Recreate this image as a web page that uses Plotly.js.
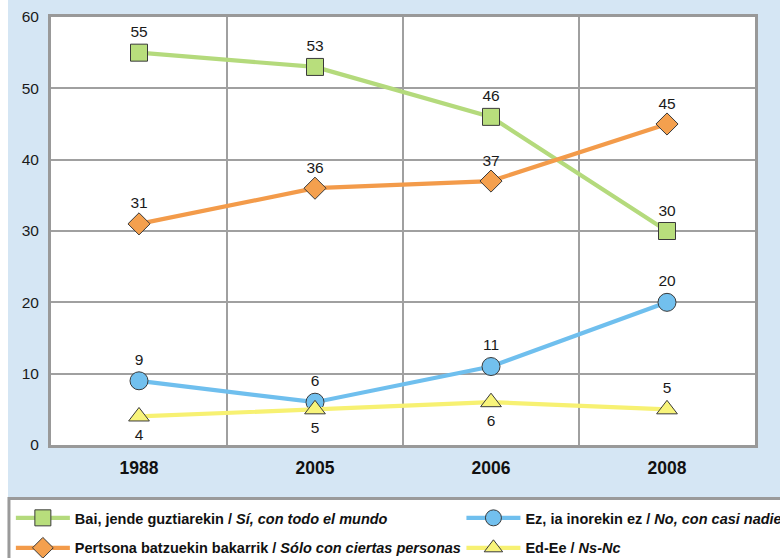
<!DOCTYPE html>
<html>
<head>
<meta charset="utf-8">
<script src="https://cdn.plot.ly/plotly-3.0.1.min.js"></script>
<style>html,body{margin:0;padding:0;background:#fff;}#chart{width:780px;height:558px;}</style>
</head>
<body>
<div id="chart"></div>
<script>
const years = ['1988', '2005', '2006', '2008'];
const bai = [55, 53, 46, 30];
const ez = [9, 6, 11, 20];
const pertsona = [31, 36, 37, 45];
const edee = [4, 5, 6, 5];
const nameBai = 'Bai, jende guztiarekin / <i>Sí, con todo el mundo</i>';
const nameEz = 'Ez, ia inorekin ez / <i>No, con casi nadie</i>';
const namePertsona = 'Pertsona batzuekin bakarrik / <i>Sólo con ciertas personas</i>';
const nameEdee = 'Ed-Ee / <i>Ns-Nc</i>';

const sans = 'Liberation Sans, Arial, sans-serif';
const labelFont = {family: sans, size: 15.5, color: '#1a1a1a'};

function series(y, name, color, symbol, size, fill, pos, legend) {
  return {
    x: years, y: y, name: name, type: 'scatter', mode: 'lines+markers+text',
    line: {color: color, width: 4.2},
    marker: {symbol: symbol, size: size, color: fill, line: {color: '#3a3a3a', width: 1}},
    text: y.map(String), textposition: pos, textfont: labelFont,
    legend: legend, cliponaxis: false, hoverinfo: 'skip'
  };
}

const data = [
  series(bai, nameBai, '#b4da7c', 'square', 17, '#b8de7c', 'top center', 'legend'),
  series(ez, nameEz, '#6fbfee', 'circle', 18, '#72c0ee', 'top center', 'legend2'),
  series(pertsona, namePertsona, '#f39b4a', 'diamond', 17, '#f4a04e', 'top center', 'legend3'),
  series(edee, nameEdee, '#f7f172', 'triangle-up', 18, '#f8f47a',
         ['bottom center', 'bottom center', 'bottom center', 'top center'], 'legend4')
];

const legendFont = {family: sans, size: 14.5, color: '#111', weight: 'bold'};
function leg(x, y) {
  return {x: x, xanchor: 'left', y: y, yanchor: 'top', orientation: 'v',
          bgcolor: 'rgba(0,0,0,0)', borderwidth: 0, font: legendFont, itemwidth: 54};
}
const layout = {
  width: 780, height: 558,
  margin: {l: 51, r: 25, t: 17, b: 113, autoexpand: false},
  paper_bgcolor: '#d5e6f4',
  plot_bgcolor: '#ffffff',
  showlegend: true,
  xaxis: {
    type: 'category', range: [-0.5, 3.5], tickson: 'boundaries',
    showgrid: true, gridcolor: '#a0a0a0', gridwidth: 2,
    showline: true, mirror: true, linecolor: '#999999', linewidth: 3,
    ticks: '', ticklabelstandoff: 5,
    tickfont: {family: sans, size: 17.5, color: '#111', weight: 'bold'},
    fixedrange: true
  },
  yaxis: {
    range: [0, 60], dtick: 10, tick0: 0,
    showgrid: true, gridcolor: '#a0a0a0', gridwidth: 2, zeroline: false,
    showline: true, mirror: true, linecolor: '#999999', linewidth: 3,
    ticks: '', ticklabelstandoff: 6,
    tickfont: {family: sans, size: 15.5, color: '#1a1a1a'},
    fixedrange: true
  },
  legend: leg(-0.057, -0.133),
  legend2: leg(0.583, -0.133),
  legend3: leg(-0.057, -0.203),
  legend4: leg(0.583, -0.203),
  shapes: [
    {type: 'rect', xref: 'paper', yref: 'paper', x0: -0.08, x1: -0.0611, y0: -0.4, y1: 1.1,
     fillcolor: '#ffffff', line: {width: 0}, layer: 'below'},
    {type: 'rect', xref: 'paper', yref: 'paper', x0: -0.0597, x1: 1.2, y0: -0.125, y1: -0.4,
     fillcolor: '#ffffff', line: {color: '#9a9a9a', width: 3}, layer: 'below'}
  ]
};

Plotly.newPlot('chart', data, layout, {displayModeBar: false, staticPlot: true});
</script>
</body>
</html>
